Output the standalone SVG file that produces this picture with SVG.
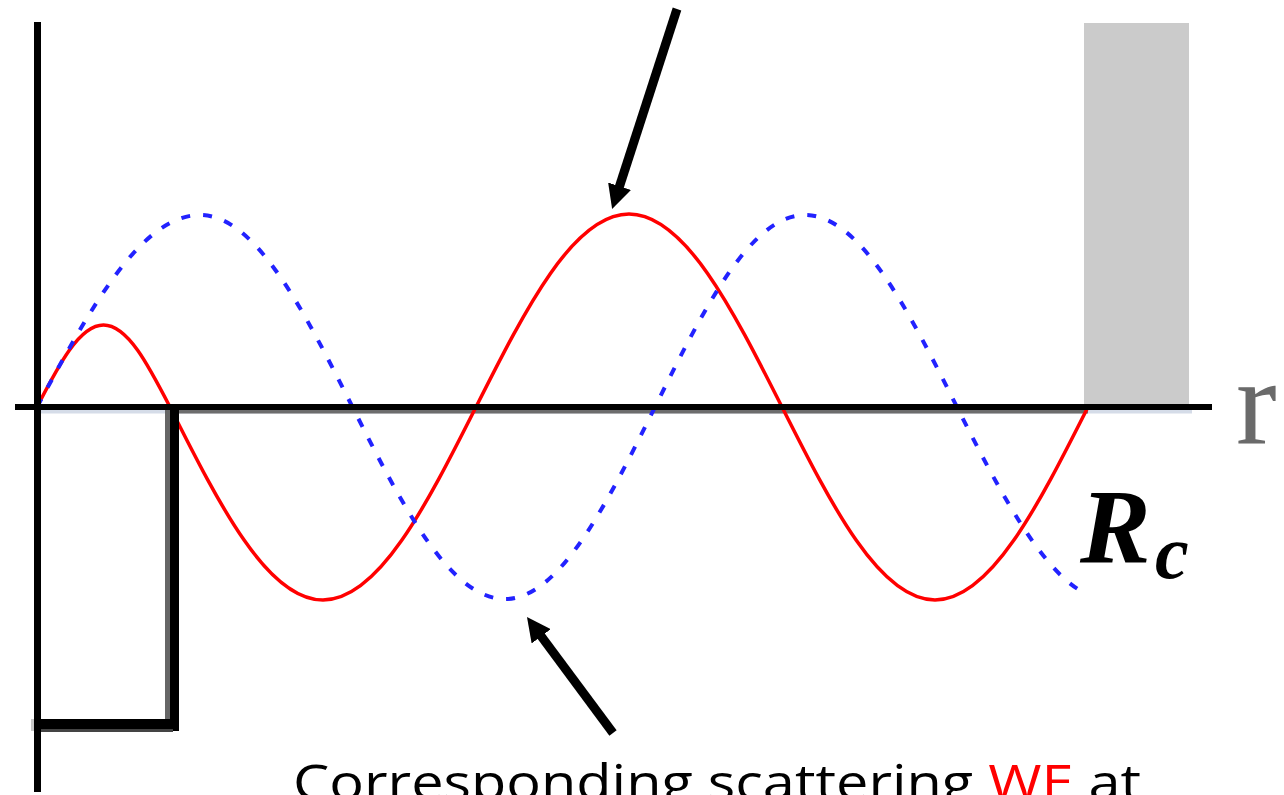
<svg xmlns="http://www.w3.org/2000/svg" width="1284" height="795" viewBox="0 0 1284 795">
  <defs>
    <style>
      .axis { fill: #000; }
      .shadow { fill: #666; }
      .red { fill: none; stroke: #ff0000; stroke-width: 3.5; }
      .blue { fill: none; stroke: #2222ff; stroke-width: 4; stroke-dasharray: 9 13; }
      .arrow { stroke: #000; stroke-width: 9; fill: none; marker-end: url(#head); }
      .label { font-family: "Open Sans", "Liberation Sans", sans-serif; font-size: 50px; fill: #000; }
    </style>
    <marker id="head" markerUnits="userSpaceOnUse" markerWidth="24" markerHeight="24" refX="4" refY="12" orient="auto" viewBox="0 0 24 24">
      <path d="M0,0 L24,12 L0,24 z" fill="#000"/>
    </marker>
  </defs>
  <rect width="1284" height="795" fill="#fff"/>

  <g id="barrier">
    <rect x="1084" y="23" width="105" height="381" fill="#cbcbcb"/>
  </g>

  <g id="axis-shadows">
    <rect x="41" y="410" width="1151" height="3.5" fill="#d5dce8"/>
    <rect x="168" y="410" width="920" height="3.5" fill="#6d6d6d"/>
  </g>

  <g id="waves">
    <path id="scattering-wf" class="red" d="M37,407 C58.7,365 79.4,325 103.5,325 C127.6,325 148.3,365 170,407 C219.9,505.9 267.6,600 323,600 C378.4,600 426.1,505.9 476,407 C525.9,308.1 573.6,214 629,214 C684.4,214 732.1,308.1 782,407 C831.9,505.9 879.6,600 935,600 C990.4,600 1038.1,505.9 1088,407"/>
    <path id="free-wf" class="blue" d="M37,407 C90.2,308.6 141,215 200,215 C255.2,215 302.8,308.6 352.5,407 C402.2,505.4 449.8,599 505,599 C559.3,599 606.1,505.4 655,407 C703.9,308.6 750.7,215 805,215 C860,215 907.4,308.6 957,407 C1000,492.3 1043,573.5 1086,593.6"/>
  </g>

  <g id="potential-well">
    <rect class="shadow" x="165" y="404" width="6" height="327"/>
    <rect class="axis" x="170" y="404" width="9" height="327"/>
    <rect class="axis" x="34" y="719" width="145" height="10"/>
    <rect x="41" y="729" width="132" height="3" fill="#444"/>
    <rect x="31" y="719" width="3" height="12" fill="#c8c8c8"/>
  </g>

  <g id="axes">
    <rect class="axis" x="34" y="22" width="7" height="770"/>
    <rect class="axis" x="15" y="404" width="1197" height="6"/>
  </g>

  <g id="labels">
    <text x="1236" y="444" font-family="'Liberation Serif', serif" font-size="122" fill="#6a6a6a">r</text>
    <text x="1080" y="562" font-family="'Liberation Serif', serif" font-weight="bold" font-style="italic" font-size="106" fill="#000">R</text>
    <text x="1155" y="578" font-family="'Liberation Serif', serif" font-weight="bold" font-style="italic" font-size="76" fill="#000">c</text>
    <text class="label" x="293" y="800" textLength="848" lengthAdjust="spacingAndGlyphs">Corresponding scattering <tspan fill="#ff0000">WE</tspan> at</text>
  </g>

  <g id="connectors">
    <line class="arrow" x1="677" y1="9" x2="618.3" y2="190"/>
    <line class="arrow" x1="613" y1="733" x2="538.9" y2="633.1"/>
  </g>
</svg>
